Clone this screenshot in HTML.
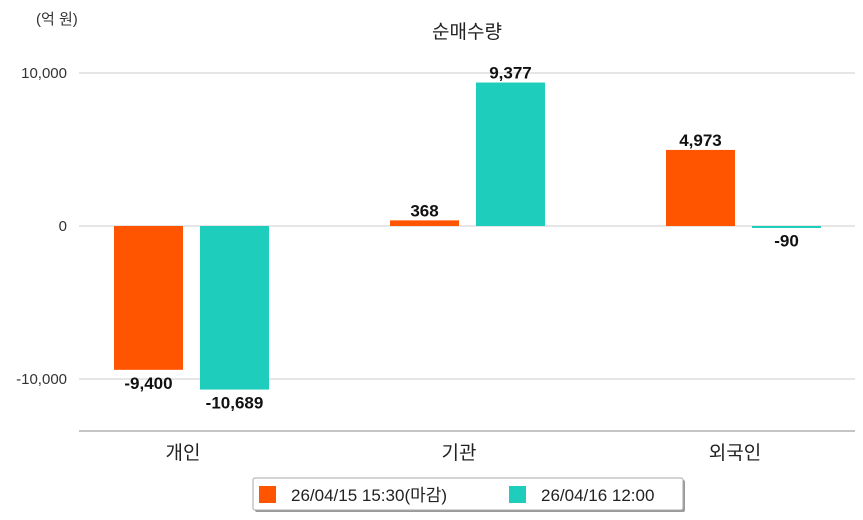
<!DOCTYPE html>
<html><head><meta charset="utf-8"><style>
body{margin:0;background:#fff;}
svg{display:block;font-family:"Liberation Sans","Noto Sans CJK KR",sans-serif;}
</style></head><body>
<svg id="c" width="863" height="520" viewBox="0 0 863 520"></svg>
<script>
const categories=['개인','기관','외국인'];
const series1=[-9400,368,4973];
const series2=[-10689,9377,-90];
const seriesNames=['26/04/15 15:30(마감)','26/04/16 12:00'];
const ticks=[10000,0,-10000];
const tickLabels=['10,000','0','-10,000'];
const colors=['#ff5500','#1ecdbb'];
const NS='http://www.w3.org/2000/svg';
const svg=document.getElementById('c');
function y(v){return 226-v*0.0153;}
function gx(i){return 79+276*i;}
function el(t,a,txt){const e=document.createElementNS(NS,t);for(const k in a)e.setAttribute(k,a[k]);if(txt!==undefined)e.textContent=txt;svg.appendChild(e);return e;}
let e;
e=el('text',{x:36,y:24,'font-size':15,fill:'#333'},'(억 원)');

e=el('text',{x:467,y:38,'font-size':19,fill:'#222','text-anchor':'middle'},'순매수량');

ticks.forEach((t,i)=>{
 e=el('line',{x1:79,x2:855,y1:y(t),y2:y(t),stroke:'#ccc','stroke-width':1});
 
 e=el('text',{x:67,y:y(t)+5,'font-size':15,fill:'#333','text-anchor':'end'},tickLabels[i]);
 
});
e=el('line',{x1:79,x2:855,y1:431,y2:431,stroke:'#888','stroke-width':1});

function fmt(v){return v.toLocaleString('en-US');}
categories.forEach((c,i)=>{
 const cx=gx(i)+104;
 e=el('text',{x:cx,y:459,'font-size':19,fill:'#222','text-anchor':'middle'},c);
 
 [series1[i],series2[i]].forEach((v,s)=>{
  const x=gx(i)+35+s*86;
  let y0=y(Math.max(v,0)),h=Math.abs(y(v)-y(0));if(h<2)h=2;
  e=el('rect',{x:x,y:y0,width:69,height:h,fill:colors[s]});
  
  const ly=v>=0?y(v)-4:y(v)+19;
  e=el('text',{x:x+34.5,y:ly,'font-size':17,fill:'#111','text-anchor':'middle','font-weight':'bold'},fmt(v));
  
 });
});
e=el('rect',{x:255,y:480,width:430,height:32,fill:'#999',rx:2});
e=el('rect',{x:253,y:478,width:430,height:32,fill:'#fff',stroke:'#aaa',rx:2});

seriesNames.forEach((n,s)=>{
 const lx=s?509:259;
 e=el('rect',{x:lx,y:486,width:17,height:17,fill:colors[s]});
 
 e=el('text',{x:lx+32,y:501,'font-size':17,fill:'#222'},n);
 
});
</script>
</body></html>
